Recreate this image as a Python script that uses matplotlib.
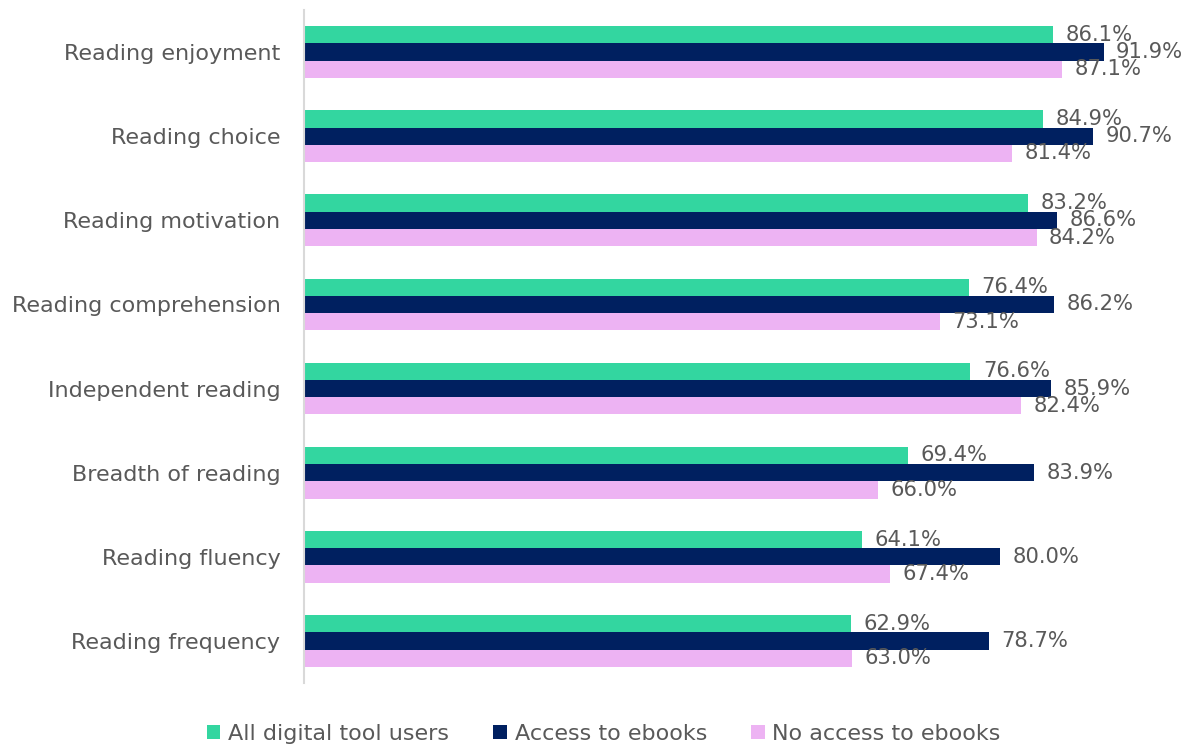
import matplotlib.pyplot as plt
import numpy as np

#data
categories = ["Reading enjoyment", "Reading choice", "Reading motivation",
              "Reading comprehension", "Independent reading", "Breadth of reading",
              "Reading fluency", "Reading frequency"]
all_users = [86.1, 84.9, 83.2, 76.4, 76.6, 69.4, 64.1, 62.9]
access = [91.9, 90.7, 86.6, 86.2, 85.9, 83.9, 80.0, 78.7]
no_access = [87.1, 81.4, 84.2, 73.1, 82.4, 66.0, 67.4, 63.0]

series = [("All digital tool users", all_users, "#33D6A0"),
          ("Access to ebooks", access, "#002060"),
          ("No access to ebooks", no_access, "#EDB3F3")]

plt.rcParams['font.family'] = ['DejaVu Sans']
text_col = "#595959"

fig = plt.figure(figsize=(11.91, 7.47), dpi=100)
ax = fig.add_axes([304/1191, 1 - 683/747, (1174 - 304)/1191, (683 - 10)/747])

y = np.arange(len(categories))
h = 0.205
for i, (name, vals, col) in enumerate(series):
    pos = y + (i - 1) * h
    ax.barh(pos, vals, height=h, color=col, label=name)
    for p, v in zip(pos, vals):
        ax.annotate(f"{v:.1f}%", xy=(v, p), xytext=(9, 0), textcoords="offset points",
                    va="center", ha="left", fontsize=15.2, color=text_col)

ax.set_xlim(0, 100)
ax.set_ylim(len(categories) - 0.5, -0.5)
ax.set_yticks(y)
ax.set_yticklabels(categories, fontsize=16, color=text_col)
ax.tick_params(axis="y", length=0, pad=17)
ax.set_xticks([])
for s in ["top", "right", "bottom"]:
    ax.spines[s].set_visible(False)
ax.spines["left"].set_color("#D9D9D9")
ax.spines["left"].set_linewidth(1.5)

leg = fig.legend(loc="center", bbox_to_anchor=(0.507, 1 - 734/747), ncol=3,
                 frameon=False, fontsize=16, handlelength=0.6, handleheight=0.6,
                 handletextpad=0.35, columnspacing=2.0)
for t in leg.get_texts():
    t.set_color(text_col)

fig.savefig("out.png", dpi=100)
